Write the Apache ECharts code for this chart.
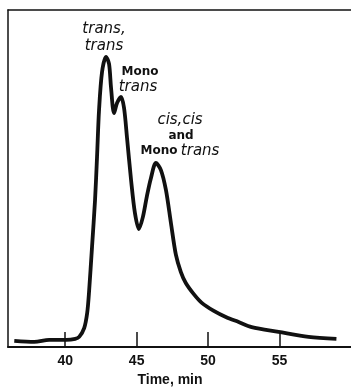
<!DOCTYPE html>
<html>
<head>
<meta charset="utf-8">
<script src="https://cdn.jsdelivr.net/npm/echarts@6/dist/echarts.min.js"></script>
<style>
  html, body { margin: 0; padding: 0; background: #fff; }
  #chart { width: 351px; height: 387px; }
</style>
</head>
<body>
<div id="chart"></div>
<script>
// elution time (min) and detector response (relative units)
const timeMin = [36.44, 37.84, 38.88, 40.07, 40.70, 40.98, 41.33, 41.54, 41.67, 41.88,
    42.09, 42.23, 42.37, 42.58, 42.86, 43.07, 43.21, 43.42, 43.63, 43.91,
    44.12, 44.33, 44.61, 44.88, 45.16, 45.44, 45.72, 46.00, 46.35, 46.70,
    47.05, 47.40, 47.75, 48.09, 48.44, 49.00, 49.56, 50.40, 51.24, 52.14,
    53.05, 54.93, 57.03, 58.98];
const response = [1.8, 1.5, 2.1, 2.1, 2.4, 3.0, 5.6, 10.1, 16.3, 29.7,
    43.6, 56.4, 70.3, 81.6, 86.1, 84.0, 76.9, 69.4, 72.4, 74.2,
    70.9, 62.0, 49.6, 39.8, 35.0, 38.6, 44.8, 50.1, 54.6, 52.5,
    46.6, 36.8, 27.3, 22.3, 19.0, 15.7, 13.1, 10.7, 8.9, 7.4,
    5.9, 4.5, 3.0, 2.4];
const xTicks = [40, 45, 50, 55];

const chart = echarts.init(document.getElementById("chart"));

const ink = "#111";
const textFont = "DejaVu Sans";
const axisFont = "'Liberation Sans Narrow', 'Liberation Sans', sans-serif";

function note(x, y, text, font) {
    return {
        type: "text",
        x: x,
        y: y,
        style: { text: text, align: "center", verticalAlign: "middle", font: font, fill: ink, lineHeight: 17 },
    };
}

const option = {
    animation: false,
    grid: {
        left: 8,
        top: 10,
        width: 344,
        bottom: 40,
    },
    xAxis: [
        {
            type: "value",
            min: 36,
            max: 60,
            axisLine: { show: true, lineStyle: { color: ink, width: 2 } },
            axisTick: {
                show: true,
                inside: true,
                length: 15,
                customValues: xTicks,
                lineStyle: { color: ink, width: 1.5 },
            },
            axisLabel: {
                customValues: xTicks,
                color: ink,
                fontFamily: axisFont,
                fontWeight: "bold",
                fontSize: 14,
                margin: 7,
            },
            splitLine: { show: false },
        },
        {
            // top edge of the frame
            type: "value",
            position: "top",
            min: 36,
            max: 60,
            axisLine: { show: true, lineStyle: { color: ink, width: 1.5 } },
            axisTick: { show: false },
            axisLabel: { show: false },
            splitLine: { show: false },
        },
    ],
    yAxis: {
        type: "value",
        min: 0,
        max: 100,
        axisLine: { show: true, lineStyle: { color: ink, width: 1.5 } },
        axisTick: { show: false },
        axisLabel: { show: false },
        splitLine: { show: false },
    },
    series: [
        {
            type: "line",
            data: timeMin.map((t, i) => [t, response[i]]),
            smooth: 0.3,
            symbol: "none",
            lineStyle: { color: ink, width: 3.8 },
        },
    ],
    graphic: [
        note(104, 38, "trans,\ntrans", "italic 15px " + textFont),
        note(140, 72, "Mono", "bold 12px " + textFont),
        note(138, 87, "trans", "italic 15px " + textFont),
        note(180, 120, "cis,cis", "italic 15px " + textFont),
        note(181, 136, "and", "bold 12px " + textFont),
        {
            type: "text",
            x: 180,
            y: 151,
            style: {
                text: "{b|Mono} {i|trans}",
                align: "center",
                verticalAlign: "middle",
                fill: ink,
                rich: {
                    b: { fontFamily: textFont, fontWeight: "bold", fontSize: 12, fill: ink },
                    i: { fontFamily: textFont, fontStyle: "italic", fontSize: 15, fill: ink },
                },
            },
        },
        note(170, 380, "Time, min", "bold 14px " + axisFont),
    ],
};

chart.setOption(option);
</script>
</body>
</html>
